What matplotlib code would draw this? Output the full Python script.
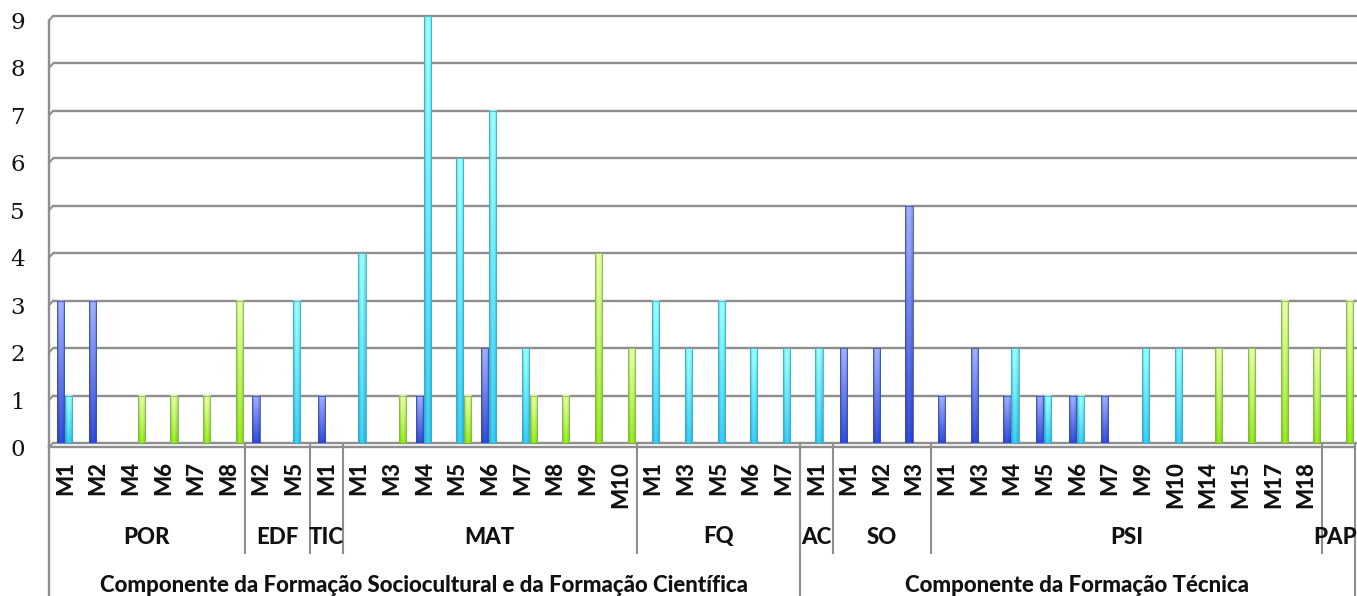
import matplotlib
matplotlib.use('Agg')
import matplotlib.pyplot as plt
import numpy as np
from matplotlib.transforms import offset_copy
from matplotlib.colors import to_rgb

# ---- data ----
subjects = ['POR', 'EDF', 'TIC', 'MAT', 'FQ', 'AC', 'SO', 'PSI', 'PAP']
modules = [
    ['M1', 'M2', 'M4', 'M6', 'M7', 'M8'],
    ['M2', 'M5'],
    ['M1'],
    ['M1', 'M3', 'M4', 'M5', 'M6', 'M7', 'M8', 'M9', 'M10'],
    ['M1', 'M3', 'M5', 'M6', 'M7'],
    ['M1'],
    ['M1', 'M2', 'M3'],
    ['M1', 'M3', 'M4', 'M5', 'M6', 'M7', 'M9', 'M10', 'M14', 'M15', 'M17', 'M18'],
    [''],
]
components = ['Componente da Formação Sociocultural e da Formação Científica',
              'Componente da Formação Técnica']
subjects_per_component = [5, 4]

serie_azul = [3, 3, 0, 0, 0, 0, 1, 0, 1, 0, 0, 1, 0, 2, 0, 0, 0, 0, 0, 0,
              0, 0, 0, 0, 2, 2, 5, 1, 2, 1, 1, 1, 1, 0, 0, 0, 0, 0, 0, 0]
serie_ciano = [1, 0, 0, 0, 0, 0, 0, 3, 0, 4, 0, 9, 6, 7, 2, 0, 0, 0, 3, 2,
               3, 2, 2, 2, 0, 0, 0, 0, 0, 2, 1, 1, 0, 2, 2, 0, 0, 0, 0, 0]
serie_verde = [0, 0, 1, 1, 1, 3, 0, 0, 0, 0, 1, 0, 1, 0, 1, 1, 4, 2, 0, 0,
               0, 0, 0, 0, 0, 0, 0, 0, 0, 0, 0, 0, 0, 0, 0, 2, 2, 3, 2, 3]

# ---- figure ----
W, H = 1357, 596
fig = plt.figure(figsize=(W / 100, H / 100), dpi=100)
ax_l, ax_r, ax_t, ax_b = 49, 1355, 16, 443
ax = fig.add_axes([ax_l / W, (H - ax_b) / H, (ax_r - ax_l) / W, (ax_b - ax_t) / H])
for s in ax.spines.values():
    s.set_visible(False)
ax.set_xticks([])
ax.set_yticks([])
aw = ax_r - ax_l
ah = ax_b - ax_t
px = 9 / ah  # data units per pixel on y

n = len(serie_azul)
grid_c = '#8e8e8e'
ytr = ax.get_yaxis_transform()

# gridlines with small 3D corner at the wall
for v in range(10):
    ax.plot([4 / aw, 1 + 2 / aw], [v, v], transform=ytr, color=grid_c, lw=1.7,
            clip_on=False, zorder=1, solid_capstyle='butt')
    ax.plot([0, 4 / aw], [v - 4.5 * px, v], transform=ytr, color=grid_c, lw=1.5,
            clip_on=False, zorder=1)
# floor front edge
ax.plot([0, 1], [-4 * px, -4 * px], transform=ytr, color=grid_c, lw=1.7, clip_on=False, zorder=1)
# left wall, down through the category table
ax.plot([0, 0], [1 - 4.5 / ah, -(H - ax_b) / ah], transform=ax.transAxes, color=grid_c,
        lw=1.7, clip_on=False)

# y labels
lab_tr = offset_copy(ytr, fig=fig, x=-24, y=-7, units='dots')
for v in range(10):
    ax.text(0, v, str(v), transform=lab_tr, ha='right', va='center', fontsize=16.5,
            family='DejaVu Serif', color='#111111')

# bars with gradient
series = [serie_azul, serie_ciano, serie_verde]
offsets = [-0.16, 0.085, 0.33]
bw = 0.22
grads = [('#99a8f6', '#2e48cf', '#3b4fb5'),
         ('#90f8fb', '#35c3e9', '#3aaecb'),
         ('#ddf99c', '#8cdf1f', '#86b84a')]
rows = 64
t = np.linspace(0, 1, rows)[:, None, None]
shade = np.array([0.82, 0.95, 1.06, 1.08, 1.04, 0.97, 0.88])[None, :, None]
x = np.arange(n)
for vals, off, (top, bot, edge) in zip(series, offsets, grads):
    img = np.array(to_rgb(bot)) + (np.array(to_rgb(top)) - np.array(to_rgb(bot))) * t
    img = np.clip(img * shade, 0, 1)
    bars = ax.bar(x + off, vals, bw, facecolor='none', edgecolor=edge, lw=0.6, zorder=4)
    for b, v in zip(bars, vals):
        if v <= 0:
            continue
        ax.imshow(img, extent=[b.get_x(), b.get_x() + bw, 0, v], origin='lower',
                  aspect='auto', zorder=3, interpolation='bilinear')

ax.set_xlim(-0.5, n - 0.5)
ax.set_ylim(0, 9)

# category table
xtr = ax.get_xaxis_transform()
fam = ['Lato', 'DejaVu Sans']
labels = [m for grp in modules for m in grp]
for i, lab in enumerate(labels):
    ax.text(i, -18 / ah, lab, transform=xtr, rotation=90, ha='center', va='top',
            fontsize=16, fontweight='black', family=fam, color='#111111')

sep1 = -(553 - ax_b) / ah
sep2 = -(H - ax_b) / ah
start = 0
bounds = []
for name, grp in zip(subjects, modules):
    end = start + len(grp)
    xc = (start + end - 1) / 2
    if end == n:
        xc -= 0.12  # keep the last label inside the picture
    ax.text(xc, -(537 - ax_b) / ah, name, transform=xtr,
            ha='center', va='center', fontsize=16, fontweight='black', family=fam,
            color='#111111')
    bounds.append(end)
    start = end
for b in bounds[:-1]:
    ax.plot([b - 0.5, b - 0.5], [0, sep1], transform=xtr, color=grid_c, lw=1.5, clip_on=False)

start = 0
si = 0
for comp, k in zip(components, subjects_per_component):
    end = sum(len(g) for g in modules[si:si + k]) + start
    ax.text((start + end - 1) / 2, -(585 - ax_b) / ah, comp, transform=xtr,
            ha='center', va='center', fontsize=16, fontweight='black', family=fam,
            color='#111111')
    ax.plot([end - 0.5, end - 0.5], [0, sep2], transform=xtr, color=grid_c, lw=1.5,
            clip_on=False)
    si += k
    start = end

fig.savefig('out.png', dpi=100)
